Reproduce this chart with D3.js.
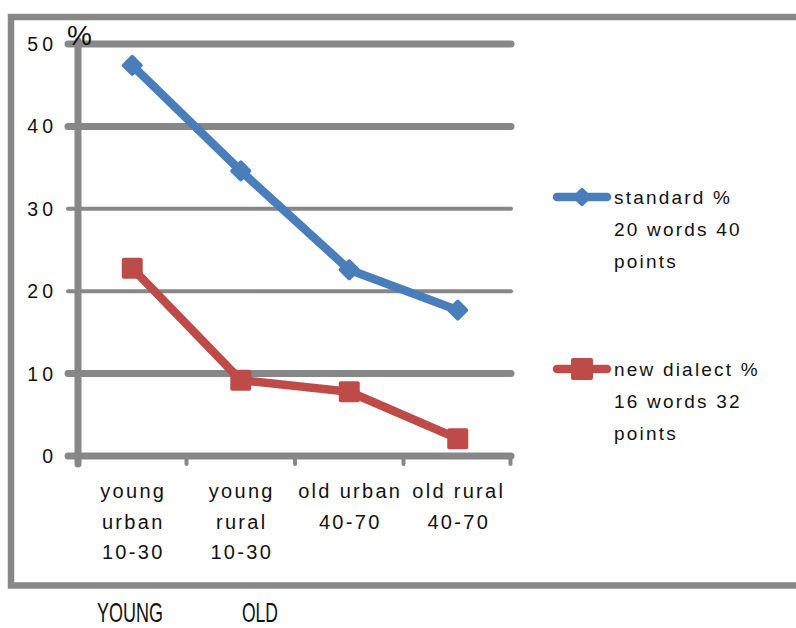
<!DOCTYPE html>
<html><head><meta charset="utf-8">
<script src="https://cdn.jsdelivr.net/npm/d3@7/dist/d3.min.js"></script>
<style>body{margin:0;background:#fff}svg{display:block}</style>
</head><body>
<svg id="c" width="796" height="628"></svg>
<script>
const categories = [["young","urban","10-30"],["young","rural","10-30"],["old urban","40-70"],["old rural","40-70"]];
const standard = [47.4, 34.6, 22.6, 17.7];
const newDialect = [22.8, 9.2, 7.8, 2.1];
const yTicks = [0, 10, 20, 30, 40, 50];
const legendStandard = ["standard %", "20 words 40", "points"];
const legendNew = ["new dialect %", "16 words 32", "points"];
const groupLabels = ["YOUNG", "OLD"];

const svg = d3.select("#c");
const gray = "#878787", blue = "#4A7EBB", red = "#BE4B48";
const font = "'Liberation Sans', Arial, sans-serif";

// frame
svg.append("rect").attr("x", 11).attr("y", 17).attr("width", 800).attr("height", 568.5)
  .attr("fill", "none").attr("stroke", gray).attr("stroke-width", 6.5);

const x = d3.scaleBand().domain(d3.range(categories.length)).range([78, 512]).padding(0);
const y = d3.scaleLinear().domain([0, 50]).range([456, 44]);

// gridlines
const gw = {0:7,10:7,20:4,30:4,40:7,50:7};
svg.append("g").selectAll("line").data(yTicks).join("line")
  .attr("x1", 68).attr("x2", 511).attr("y1", d => y(d)).attr("y2", d => y(d))
  .attr("stroke", gray).attr("stroke-width", d => gw[d]).attr("stroke-linecap", "round");

// y axis line
svg.append("line").attr("x1", 78).attr("x2", 78).attr("y1", 41).attr("y2", 464)
  .attr("stroke", gray).attr("stroke-width", 7).attr("stroke-linecap", "round");

// x ticks
const bounds = d3.range(1, categories.length + 1).map(i => x.range()[0] + x.step() * i);
svg.append("g").selectAll("line").data(bounds).join("line")
  .attr("x1", d => d - (d > 511 ? 1.5 : 0)).attr("x2", d => d - (d > 511 ? 1.5 : 0))
  .attr("y1", 456).attr("y2", 464)
  .attr("stroke", gray).attr("stroke-width", 4).attr("stroke-linecap", "round");

// y labels
svg.append("g").selectAll("text").data(yTicks).join("text")
  .attr("x", 57).attr("y", d => y(d) + 7)
  .attr("text-anchor", "end").attr("font-family", font).attr("font-size", 19.5)
  .attr("letter-spacing", 4).attr("fill", "#111").text(d => d);

svg.append("text").attr("x", 67).attr("y", 45).attr("font-family", font)
  .attr("font-size", 28).attr("fill", "#111").text("%");

// x labels
const xl = svg.append("g").selectAll("text").data(categories).join("text")
  .attr("text-anchor", "middle").attr("font-family", font).attr("font-size", 20)
  .attr("letter-spacing", 2.3).attr("fill", "#111");
xl.selectAll("tspan").data((d, i) => d.map(t => ({t, i}))).join("tspan")
  .attr("x", d => x(d.i) + x.bandwidth() / 2 + 1).attr("y", (d, j) => 498 + j * 30.5)
  .text(d => d.t);

const cx = i => x(i) + x.bandwidth() / 2;
const line = d3.line().x((d, i) => cx(i)).y(d => y(d));

function series(vals, color, marker) {
  svg.append("path").datum(vals).attr("d", line).attr("fill", "none")
    .attr("stroke", color).attr("stroke-width", 8.5).attr("stroke-linejoin", "round");
  const g = svg.append("g");
  vals.forEach((v, i) => marker(g, cx(i), y(v)));
}
function diamond(g, px, py, s = 16) {
  g.append("rect").attr("x", -s/2).attr("y", -s/2).attr("width", s).attr("height", s)
    .attr("rx", 2).attr("fill", blue)
    .attr("transform", `translate(${px},${py}) rotate(45)`);
}
function square(g, px, py, s = 21) {
  g.append("rect").attr("x", px - s/2).attr("y", py - s/2).attr("width", s).attr("height", s)
    .attr("rx", 2).attr("fill", red);
}
series(standard, blue, diamond);
series(newDialect, red, square);

// legend
function legend(lines, color, marker, ly) {
  svg.append("line").attr("x1", 557).attr("x2", 607).attr("y1", ly).attr("y2", ly)
    .attr("stroke", color).attr("stroke-width", 8.5).attr("stroke-linecap", "round");
  marker(svg, 582, ly);
  svg.append("g").selectAll("text").data(lines).join("text")
    .attr("x", 614).attr("y", (d, i) => ly + 7 + i * 32)
    .attr("font-family", font).attr("font-size", 19).attr("letter-spacing", 2.2)
    .attr("fill", "#111").text(d => d);
}
legend(legendStandard, blue, (g, a, b) => diamond(g, a, b, 14), 197);
legend(legendNew, red, (g, a, b) => square(g, a, b, 22), 369);

// group labels
const gx = [97, 242], gl = [66, 36];
svg.append("g").selectAll("text").data(groupLabels).join("text")
  .attr("x", (d, i) => gx[i]).attr("y", 622)
  .attr("font-family", font).attr("font-size", 28).attr("fill", "#111")
  .attr("textLength", (d, i) => gl[i]).attr("lengthAdjust", "spacingAndGlyphs")
  .text(d => d);
</script>
</body></html>
